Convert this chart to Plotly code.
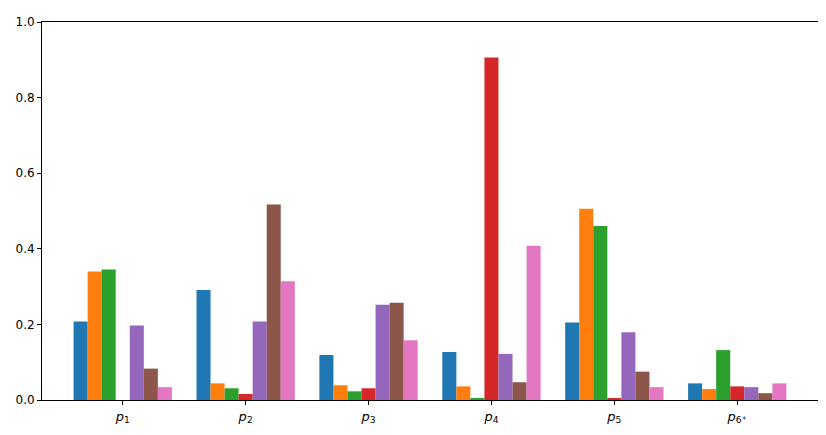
import plotly.graph_objects as go

# categories (tick labels) along x
categories = ["<i>p</i><sub>1</sub>", "<i>p</i><sub>2</sub>", "<i>p</i><sub>3</sub>",
              "<i>p</i><sub>4</sub>", "<i>p</i><sub>5</sub>", "<i>p</i><sub>6<sup>+</sup></sub>"]

# one list per series
s1 = [0.208, 0.291, 0.119, 0.127, 0.205, 0.044]
s2 = [0.340, 0.044, 0.039, 0.036, 0.506, 0.029]
s3 = [0.345, 0.031, 0.023, 0.005, 0.460, 0.132]
s4 = [0.000, 0.016, 0.031, 0.906, 0.005, 0.036]
s5 = [0.197, 0.208, 0.252, 0.122, 0.179, 0.034]
s6 = [0.083, 0.517, 0.257, 0.047, 0.075, 0.018]
s7 = [0.034, 0.314, 0.158, 0.408, 0.034, 0.044]

series = [s1, s2, s3, s4, s5, s6, s7]
colors = ["#1f77b4", "#ff7f0e", "#2ca02c", "#d62728", "#9467bd", "#8c564b", "#e377c2"]
xpos = list(range(len(categories)))

fig = go.Figure()
for i, vals in enumerate(series):
    fig.add_trace(go.Bar(x=xpos, y=vals, name=f"series {i + 1}",
                         marker=dict(color=colors[i], line=dict(width=0))))

# page body has an 8px margin, so the margins below are shifted for it
fig.update_layout(
    barmode="group",
    bargap=0.2,
    bargroupgap=0,
    showlegend=False,
    width=826,
    height=435,
    margin=dict(l=34, r=16, t=7, b=43),
    plot_bgcolor="white",
    paper_bgcolor="white",
    font=dict(family="DejaVu Sans", size=12, color="black"),
)
fig.update_xaxes(
    range=[-0.657, 5.657],
    tickvals=xpos,
    ticktext=categories,
    tickfont=dict(size=13),
    ticks="outside", ticklen=4, tickcolor="black",
    showline=True, linecolor="black", linewidth=1, mirror=True,
    showgrid=False, zeroline=False,
)
fig.update_yaxes(
    range=[0, 1],
    tickvals=[0, 0.2, 0.4, 0.6, 0.8, 1.0],
    tickformat=".1f",
    ticks="outside", ticklen=4, tickcolor="black",
    showline=True, linecolor="black", linewidth=1, mirror=True,
    showgrid=False, zeroline=False,
)

fig.write_html("out.html")
